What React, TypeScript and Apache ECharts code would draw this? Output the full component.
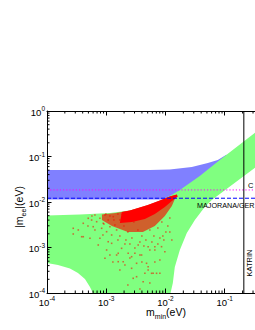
import React, { useEffect, useRef } from 'react';
import * as echarts from 'echarts';

// ---- axis ticks (eV) ----
const decades = [1e-4, 1e-3, 1e-2, 1e-1];
const minorMultipliers = [2, 3, 4, 5, 6, 7, 8, 9];

// ---- allowed regions [m_min, |m_ee|] ----
const greenTop = [[1e-4, 5.05e-3], [3.6e-4, 5.31e-3], [1.15e-3, 5.73e-3], [2.51e-3, 6.5e-3], [4.49e-3, 7.96e-3], [6.6e-3, 9.5e-3], [8.67e-3, 0.0111], [0.0118, 0.01355], [0.0175, 0.0184], [0.0379, 0.0373], [0.0824, 0.0838], [0.32, 0.33], [1, 1]];
const greenBottomRight = [[1, 0.17], [0.32, 0.0559], [0.0604, 0.0111], [0.046, 7.76e-3], [0.0313, 4.02e-3], [0.0229, 2.08e-3], [0.01746, 8.81e-4], [0.01436, 3.73e-4], [0.0133, 1.66e-4], [0.01217, 1e-4]];
const greenBottomLeft = [[5.96e-4, 1e-4], [5.31e-4, 1.35e-4], [4.37e-4, 2.03e-4], [3.33e-4, 2.75e-4], [2.44e-4, 3.45e-4], [1.53e-4, 4.12e-4], [1e-4, 4.56e-4]];
const blueTop = [[1e-4, 0.0505], [5.4e-3, 0.0505], [0.0118, 0.052], [0.0278, 0.0588], [0.0518, 0.072], [0.0762, 0.0838], [0.108, 0.111]];
const blueBottom = [[0.06, 0.03], [0.03, 0.015], [0.0125, 0.0113], [1e-4, 0.0113]];

// ---- red sample cloud, as [log10 m_min, log10 |m_ee|] ----
const redCoreLog = [[-2.736, -2.22], [-2.601, -2.187], [-2.298, -2.066], [-2.095, -1.967], [-1.927, -1.879], [-1.809, -1.835], [-1.792, -1.879], [-1.893, -1.978], [-2.011, -2.11], [-2.18, -2.264], [-2.348, -2.374], [-2.567, -2.44], [-2.77, -2.462]];
const redHaloLog = [[-3.073, -2.275], [-2.837, -2.242], [-2.601, -2.187], [-2.298, -2.066], [-2.095, -1.967], [-1.927, -1.879], [-1.809, -1.835], [-1.893, -2.088], [-2.011, -2.308], [-2.18, -2.527], [-2.382, -2.659], [-2.635, -2.659], [-2.904, -2.527], [-3.073, -2.396]];
const redPointsLog = [
  [-3.557, -2.578], [-3.472, -2.615], [-3.388, -2.468], [-3.304, -2.358], [-3.247, -2.396], [-3.22, -2.543], [-3.191, -2.286], [-3.162, -2.433],
  [-3.107, -2.358], [-3.078, -2.578], [-3.051, -2.468], [-3.022, -2.286], [-2.994, -2.653], [-2.967, -2.396], [-2.938, -2.543], [-2.909, -2.725],
  [-2.882, -2.323], [-2.854, -2.505], [-2.825, -2.615], [-3.415, -2.763], [-3.275, -2.798], [-3.107, -2.798], [-2.967, -2.873], [-3.135, -2.945],
  [-2.994, -3.055], [-3.022, -3.237], [-2.798, -3.312], [-2.685, -3.385], [-2.825, -3.165], [-2.572, -3.457], [-2.488, -3.347], [-2.32, -3.347],
  [-2.293, -3.422], [-2.348, -3.567], [-2.235, -3.567], [-2.151, -3.567], [-2.545, -3.677], [-2.095, -3.275], [-2.011, -3.092], [-2.741, -3.018],
  [-2.63, -3.127], [-2.517, -3.127], [-2.404, -3.165], [-2.293, -2.982], [-2.18, -3.055], [-2.067, -2.982], [-2.461, -2.945], [-2.909, -2.908],
  [-2.377, -3.752], [-3.557, -2.703], [-3.388, -2.763], [-2.938, -3.165], [-2.798, -3.127], [-2.714, -3.312], [-2.572, -3.202], [-2.432, -3.165],
  [-2.293, -3.495], [-2.18, -2.982], [-2.095, -3.567], [-2.488, -3.642], [-2.208, -3.567],
  [-2.77, -2.396], [-2.702, -2.527], [-2.635, -2.659], [-2.567, -2.791], [-2.668, -2.352], [-2.534, -2.44], [-2.466, -2.615], [-2.399, -2.747],
  [-2.331, -2.835], [-2.264, -2.615], [-2.196, -2.747], [-2.129, -2.571], [-2.062, -2.44], [-1.994, -2.659], [-2.77, -2.747], [-2.668, -2.835],
  [-2.432, -2.879], [-2.23, -2.879], [-2.803, -2.264], [-2.871, -2.396], [-3.006, -2.264], [-2.938, -2.308], [-2.736, -2.275], [-3.039, -2.484],
  [-2.601, -2.923], [-2.365, -2.967], [-2.095, -2.791], [-1.961, -2.527], [-1.927, -2.352], [-2.028, -2.835],
  [-3.191, -2.615], [-3.309, -2.527], [-2.685, -2.923], [-2.517, -3.011], [-2.264, -3.055], [-2.129, -2.923], [-2.045, -2.747], [-1.927, -2.659],
  [-1.893, -2.835], [-2.803, -2.835], [-3.056, -2.725], [-3.242, -2.308], [-2.601, -3.231], [-2.399, -3.319], [-2.888, -3.319], [-2.18, -3.319],
  [-2.77, -3.495], [-2.635, -3.824], [-2.264, -3.78], [-2.432, -3.912]
];

// ---- experimental sensitivities (eV) ----
const cuoreLevel = 0.0184;
const majoranaLevel = 0.0121;
const katrinMass = 0.21;

const FONT = 'Liberation Sans';

const pow10 = (p: number[]) => [Math.pow(10, p[0]), Math.pow(10, p[1])];

export default function App() {
  const ref = useRef<HTMLDivElement>(null);
  useEffect(() => {
    if (!ref.current) return;
    const chart = echarts.init(ref.current, undefined, { renderer: 'svg' });

    const xMinor: number[] = [];
    const yMinor: number[] = [];
    decades.forEach((d) => minorMultipliers.forEach((k) => { xMinor.push(d * k); yMinor.push(d * k); }));

    const greenPoly = [...greenTop, ...greenBottomRight, ...greenBottomLeft];
    const bluePoly = [...blueTop, ...blueBottom];

    const poly = (pts: number[][], fill: string, z: number) => ({
      type: 'custom',
      coordinateSystem: 'cartesian2d',
      silent: true,
      z,
      clip: true,
      data: [pts[0]],
      renderItem: (_p: any, api: any) => ({
        type: 'polygon',
        shape: { points: pts.map((p) => api.coord(p)) },
        style: { fill, stroke: null },
      }),
    });

    const tickSeries = (vals: number[], dir: 'x' | 'y') => ({
      type: 'custom',
      coordinateSystem: 'cartesian2d',
      silent: true,
      z: 20,
      data: vals.map((v) => (dir === 'x' ? [v, 1e-4] : [1e-4, v])),
      renderItem: (_p: any, api: any) => {
        const v = api.value(dir === 'x' ? 0 : 1);
        const L = 2.5;
        const st = { stroke: '#000', lineWidth: 1 };
        if (dir === 'x') {
          const a = api.coord([v, 1e-4]);
          const b = api.coord([v, 1]);
          return {
            type: 'group',
            children: [
              { type: 'line', shape: { x1: a[0], y1: a[1], x2: a[0], y2: a[1] - L }, style: st },
              { type: 'line', shape: { x1: b[0], y1: b[1], x2: b[0], y2: b[1] + L }, style: st },
            ],
          };
        }
        const a = api.coord([1e-4, v]);
        const b = api.coord([1, v]);
        return {
          type: 'group',
          children: [
            { type: 'line', shape: { x1: a[0], y1: a[1], x2: a[0] + L, y2: a[1] }, style: st },
            { type: 'line', shape: { x1: b[0], y1: b[1], x2: b[0] - L, y2: b[1] }, style: st },
          ],
        };
      },
    });

    const labelFmt = (v: number) => `{b|10}{s|${Math.round(Math.log10(v))}}`;
    const labelRich = {
      b: { fontSize: 9.5, lineHeight: 12, verticalAlign: 'bottom', fontFamily: FONT, color: '#000' },
      s: { fontSize: 6.5, lineHeight: 6, verticalAlign: 'top', fontFamily: FONT, color: '#000' },
    };
    const axisCommon = {
      type: 'log',
      logBase: 10,
      min: 1e-4,
      max: 1,
      z: 10,
      splitLine: { show: false },
      axisLine: { show: true, lineStyle: { color: '#000', width: 1 } },
      axisTick: { show: true, inside: true, length: 4.5, lineStyle: { color: '#000' } },
    };

    const hline = (y: number, color: string, type: any) => ({
      type: 'line',
      data: [[1e-4, y], [1, y]],
      symbol: 'none',
      silent: true,
      z: 8,
      lineStyle: { color, width: 1, type },
    });

    chart.setOption({
      animation: false,
      grid: { left: 47, top: 111, width: 237, height: 182 },
      xAxis: [
        { ...axisCommon, position: 'bottom', axisLabel: { formatter: labelFmt, rich: labelRich, margin: 2, showMaxLabel: false } },
        { ...axisCommon, position: 'top', axisLabel: { show: false } },
      ],
      yAxis: [
        { ...axisCommon, position: 'left', axisLabel: { formatter: labelFmt, rich: labelRich, margin: 2 } },
        { ...axisCommon, position: 'right', axisLabel: { show: false } },
      ],
      series: [
        poly(bluePoly, '#8080ff', 2),
        poly(greenPoly, '#80ff80', 3),
        poly(redHaloLog.map(pow10), 'rgba(245,20,5,0.68)', 4),
        poly(redCoreLog.map(pow10), '#ff0000', 5),
        {
          type: 'scatter',
          data: redPointsLog.map(pow10),
          symbol: 'rect',
          symbolSize: 1.6,
          silent: true,
          z: 6,
          itemStyle: { color: 'rgba(240,15,0,0.72)' },
        },
        hline(cuoreLevel, '#ff00ff', [1.2, 2]),
        hline(majoranaLevel, '#0000ff', [4, 2]),
        {
          type: 'line',
          data: [[katrinMass, 1e-4], [katrinMass, 1]],
          symbol: 'none',
          silent: true,
          z: 8,
          lineStyle: { color: '#000', width: 1 },
        },
        tickSeries(xMinor, 'x'),
        tickSeries(yMinor, 'y'),
      ],
      graphic: [
        {
          type: 'text', x: 20, y: 207, rotation: Math.PI / 2, z: 30,
          style: {
            text: '{a||m}{s|ee}{a||(eV)}',
            align: 'center', verticalAlign: 'middle',
            rich: {
              a: { fontSize: 10.5, lineHeight: 14, fontFamily: FONT, fill: '#000', verticalAlign: 'top' },
              s: { fontSize: 7, lineHeight: 7, fontFamily: FONT, fill: '#000', verticalAlign: 'bottom' },
            },
          },
        },
        {
          type: 'text', x: 166, y: 313, z: 30,
          style: {
            text: '{a|m}{s|min}{a|(eV)}',
            align: 'center', verticalAlign: 'middle',
            rich: {
              a: { fontSize: 10.5, lineHeight: 14, fontFamily: FONT, fill: '#000', verticalAlign: 'top' },
              s: { fontSize: 7, lineHeight: 7, fontFamily: FONT, fill: '#000', verticalAlign: 'bottom' },
            },
          },
        },
        {
          type: 'text', x: 248, y: 185, z: 30,
          style: { text: 'C', fontSize: 7.5, fontFamily: FONT, fill: '#000', align: 'left', verticalAlign: 'middle' },
        },
        {
          type: 'text', x: 197, y: 205.5, z: 30,
          style: { text: 'MAJORANA/GER', fontSize: 7.2, fontFamily: FONT, fill: '#000', align: 'left', verticalAlign: 'middle' },
        },
        {
          type: 'text', x: 249.5, y: 263, rotation: Math.PI / 2, z: 30,
          style: { text: 'KATRIN', fontSize: 7.5, fontFamily: FONT, fill: '#000', align: 'center', verticalAlign: 'middle' },
        },
      ],
    });
    return () => chart.dispose();
  }, []);

  return (
    <div style={{ position: 'fixed', left: 0, top: 0, width: 255, height: 330, overflow: 'hidden', background: '#fff' }}>
      <div ref={ref} style={{ width: 300, height: 330 }} />
    </div>
  );
}
